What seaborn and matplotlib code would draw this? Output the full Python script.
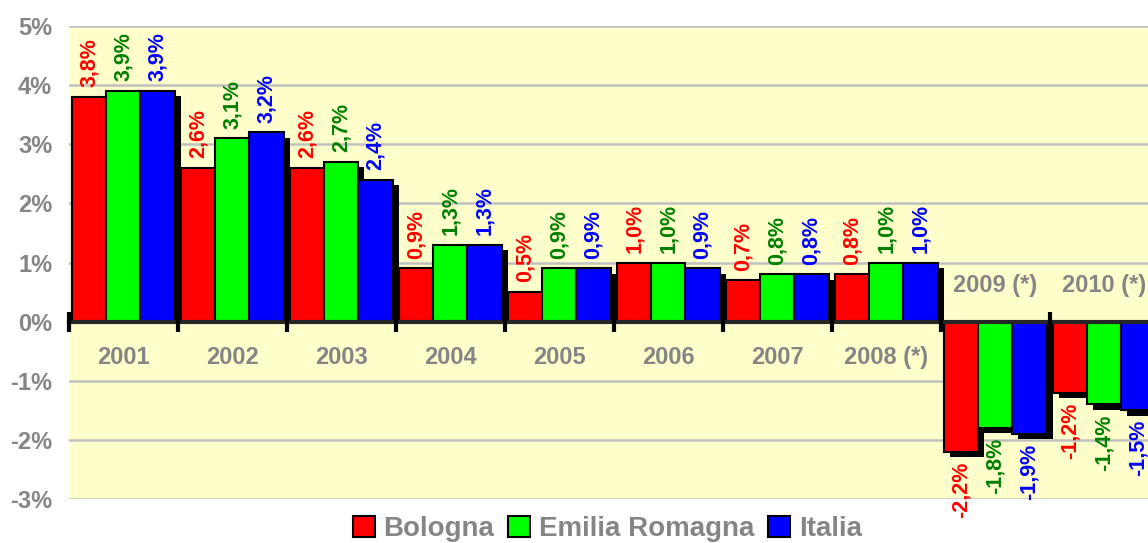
import matplotlib
matplotlib.use("Agg")
import matplotlib.pyplot as plt
import matplotlib.patheffects as pe
from matplotlib.ticker import FixedLocator
from matplotlib.transforms import Bbox, TransformedBbox
from matplotlib.patches import Patch
import seaborn as sns
import pandas as pd

years = ["2001", "2002", "2003", "2004", "2005", "2006", "2007", "2008 (*)", "2009 (*)", "2010 (*)"]
series = ["Bologna", "Emilia Romagna", "Italia"]
bologna = [3.8, 2.6, 2.6, 0.9, 0.5, 1.0, 0.7, 0.8, -2.2, -1.2]
emilia = [3.9, 3.1, 2.7, 1.3, 0.9, 1.0, 0.8, 1.0, -1.8, -1.4]
italia = [3.9, 3.2, 2.4, 1.3, 0.9, 0.9, 0.8, 1.0, -1.9, -1.5]
yticks = [-3, -2, -1, 0, 1, 2, 3, 4, 5]

bar_colors = ["#FF0000", "#00FF00", "#0000FF"]
text_colors = ["#FF0000", "#008000", "#0000FF"]
gray = "#858585"
font = "Liberation Sans"

df = pd.DataFrame({
    "year": years * 3,
    "series": [s for s in series for _ in years],
    "value": bologna + emilia + italia,
})

sns.set_style("white")
plt.rcParams["font.family"] = [font, "DejaVu Sans"]

fig = plt.figure(figsize=(11.48, 5.43), dpi=100)
ax = fig.add_axes([0.060, 0.081, 0.9495, 0.871])
ax.set_facecolor("#FFFFCC")

sns.barplot(data=df, x="year", y="value", hue="series", order=years,
            hue_order=series, palette=bar_colors, width=0.94,
            edgecolor="black", linewidth=1.5, ax=ax, legend=False,
            saturation=1)

ax.set_ylim(-3, 5)
ax.set_xlim(-0.5, len(years) - 0.5)

shadow = [pe.SimplePatchShadow(offset=(4.3, -3.8), shadow_rgbFace="black", alpha=1.0),
          pe.Normal()]
pos_clip = TransformedBbox(Bbox([[-0.5, 0], [len(years) - 0.5, 5]]), ax.transData)
for p in ax.patches:
    p.set_path_effects(shadow)
    if p.get_height() >= 0:
        p.set_clip_box(pos_clip)

vals = [bologna, emilia, italia]
for cont, v, c in zip(ax.containers, vals, text_colors):
    labels = [f"{x:.1f}".replace(".", ",") + "%" for x in v]
    ax.bar_label(cont, labels=labels, padding=7, rotation=90, color=c,
                 fontsize=15.5, fontweight="bold")

ax.yaxis.set_major_locator(FixedLocator(yticks))
ax.set_yticklabels([f"{t}%" for t in yticks], color=gray, fontsize=17, fontweight="bold")
ax.tick_params(axis="y", left=False, length=0, pad=12)
ax.grid(axis="y", color="#C0C0C0", linewidth=1.8)
ax.grid(axis="x", visible=False)
ax.set_axisbelow(True)

for s in ["left", "right", "top"]:
    ax.spines[s].set_visible(False)
ax.spines["bottom"].set_position(("data", 0))
ax.spines["bottom"].set_linewidth(3)
ax.spines["bottom"].set_zorder(5)
ax.set_xticks([i - 0.5 for i in range(len(years) + 1)])
ax.set_xticklabels([])
ax.tick_params(axis="x", bottom=True, direction="inout", length=14, width=3, color="black")
ax.xaxis.set_zorder(5)
ax.set_xlabel("")
ax.set_ylabel("")

allv = list(zip(bologna, emilia, italia))
for i, y in enumerate(years):
    off = 26 if min(allv[i]) < 0 else -26
    ax.annotate(y, (i, 0), xytext=(0, off), textcoords="offset points",
                ha="center", va="center", color=gray, fontsize=17, fontweight="bold")

handles = [Patch(facecolor=c, edgecolor="black", linewidth=1.5) for c in bar_colors]
leg = fig.legend(handles, series, loc="center", bbox_to_anchor=(0.529, 0.026), ncol=3,
                 frameon=False, handlelength=0.8, handleheight=0.8,
                 handletextpad=0.3, columnspacing=0.5,
                 prop={"family": font, "weight": "bold", "size": 20})
for t in leg.get_texts():
    t.set_color(gray)

fig.savefig("out.png", dpi=100)
